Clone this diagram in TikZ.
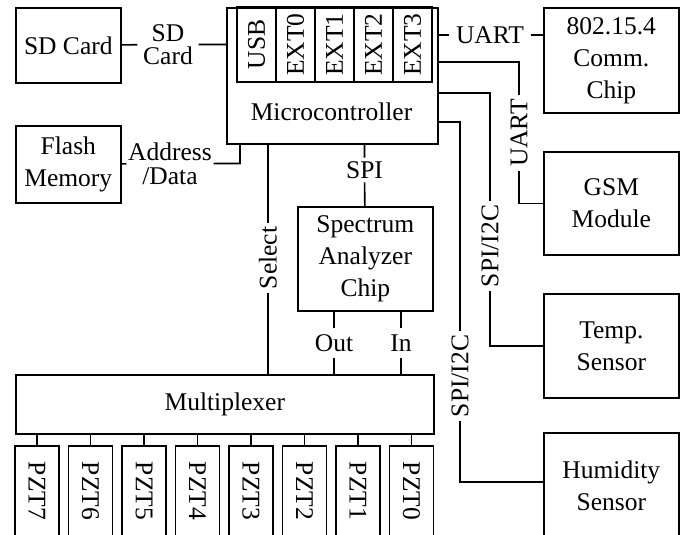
\documentclass[tikz,border=0pt]{standalone}
\usepackage{fontspec}
\setmainfont{Liberation Serif}
\begin{document}
\begin{tikzpicture}[x=1pt,y=-1pt, line width=1.6pt,
  every node/.style={font=\fontsize{25.5}{32}\selectfont},
  box/.style={draw, inner sep=0pt, anchor=north west, align=center},
  tab/.style={draw, inner sep=0pt},
  lbl/.style={inner sep=3pt, align=center}]
\useasboundingbox (0,0) rectangle (686,535);
\clip (0,0) rectangle (686,535);
% boxes
\node[box, minimum width=105pt, minimum height=75pt] (sd) at (15,7) {SD Card};
\node[box, minimum width=211pt, minimum height=136pt] (mcu) at (226,7) {};
\foreach \t [count=\i from 0] in {USB,EXT0,EXT1,EXT2,EXT3}
  \node[tab, rotate=90, minimum width=75pt, minimum height=39pt] (p\i) at (256.5+39*\i,44.5) {\t};
\node (mcutxt) at (331.5,112) {Microcontroller};
\node[box, minimum width=105pt, minimum height=77pt] (flash) at (15,125) {Flash\\Memory};
\node[box, minimum width=135pt, minimum height=104pt] (sa) at (297,206) {Spectrum\\Analyzer\\Chip};
\node[box, minimum width=418pt, minimum height=59pt] (mux) at (15,374) {Multiplexer};
\foreach \n [count=\i from 0] in {7,6,5,4,3,2,1,0}
  \node[tab, rotate=-90, minimum width=90pt, minimum height=44pt] (z\n) at (37+53.5*\i,491) {PZT\n};
\node[box, minimum width=135pt, minimum height=105pt] (chip) at (543,7) {802.15.4\\Comm.\\Chip};
\node[box, minimum width=135pt, minimum height=103pt] (gsm) at (543,151) {GSM\\Module};
\node[box, minimum width=135pt, minimum height=104pt] (temp) at (543,293) {Temp.\\Sensor};
\node[box, minimum width=135pt, minimum height=106pt] (hum) at (543,432) {Humidity\\Sensor};
% connectors to PZTs
\foreach \n in {7,6,5,4,3,2,1,0}
  \draw (z\n.center |- mux.south) -- (z\n);
% labels
\node[lbl, inner sep=5pt] (sdl) at (168,44.5) {SD\\[-9pt]Card};
\draw (sd) -- (sdl) -- (sdl.center -| mcu.west);
\node[lbl, inner sep=1pt] (adl) at (170,163.5) {Address\\[-8pt]/Data};
\draw (flash) -- (adl) -| ([xshift=14pt]mcu.south west);
\node[lbl, rotate=90] (sel) at (268,258) {Select};
\draw (sel.center |- mcu.south) -- (sel) -- (sel.center |- mux.north);
\node[lbl] (spi) at (364.5,170) {SPI};
\draw (spi.center |- mcu.south) -- (spi) -- (sa);
\node[lbl, inner sep=6pt] (outl) at (334,343) {Out};
\node[lbl, inner sep=6pt] (inl) at (401,343) {In};
\draw (outl.center |- sa.south) -- (outl) -- (outl.center |- mux.north);
\draw (inl.center |- sa.south) -- (inl) -- (inl.center |- mux.north);
\node[lbl, inner sep=6pt] (u1) at (490,35) {UART};
\draw (u1.center -| mcu.east) -- (u1) -- (u1.center -| chip.west);
\node[lbl, rotate=90] (u2) at (519,133) {UART};
\draw ([yshift=-55pt]mcu.north east) -| (u2);
\draw (u2) |- (gsm.west);
\node[lbl, rotate=90] (s1) at (490,246) {SPI/I2C};
\draw ([yshift=-86pt]mcu.north east) -| (s1);
\draw (s1) |- (temp.west);
\node[lbl, rotate=90] (s2) at (460,376) {SPI/I2C};
\draw ([yshift=-115pt]mcu.north east) -| (s2);
\draw (s2) |- ([yshift=-50pt]hum.north west);
\end{tikzpicture}
\end{document}
